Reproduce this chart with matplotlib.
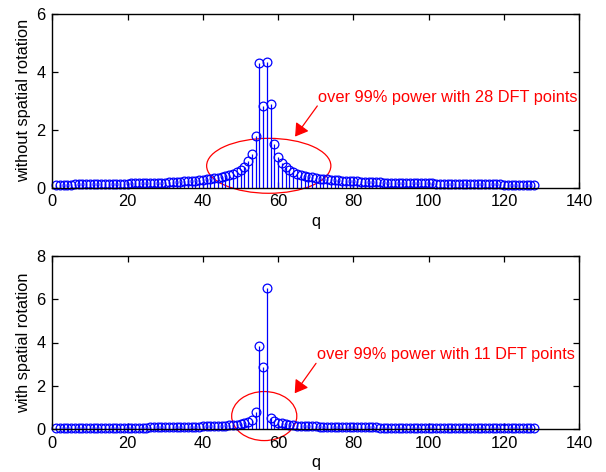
import matplotlib
matplotlib.use("Agg")
import matplotlib.pyplot as plt
from matplotlib.patches import Ellipse
import numpy as np

q = list(range(1, 129))

top_vals = [
    0.10, 0.10, 0.10, 0.10, 0.10, 0.11, 0.11, 0.11, 0.11, 0.11,
    0.11, 0.12, 0.12, 0.12, 0.12, 0.12, 0.13, 0.13, 0.13, 0.13,
    0.14, 0.14, 0.14, 0.15, 0.15, 0.15, 0.16, 0.16, 0.17, 0.17,
    0.18, 0.18, 0.19, 0.20, 0.21, 0.22, 0.23, 0.24, 0.25, 0.27,
    0.28, 0.30, 0.32, 0.34, 0.37, 0.40, 0.43, 0.47, 0.52, 0.59,
    0.72, 0.90, 1.17, 1.78, 4.30, 2.83, 4.34, 2.88, 1.50, 1.07,
    0.84, 0.70, 0.60, 0.53, 0.48, 0.44, 0.40, 0.37, 0.35, 0.33,
    0.31, 0.29, 0.28, 0.27, 0.26, 0.25, 0.24, 0.23, 0.22, 0.21,
    0.21, 0.20, 0.20, 0.19, 0.19, 0.18, 0.18, 0.17, 0.17, 0.17,
    0.16, 0.16, 0.16, 0.15, 0.15, 0.15, 0.15, 0.14, 0.14, 0.14,
    0.14, 0.13, 0.13, 0.13, 0.13, 0.13, 0.12, 0.12, 0.12, 0.12,
    0.12, 0.12, 0.11, 0.11, 0.11, 0.11, 0.11, 0.11, 0.11, 0.10,
    0.10, 0.10, 0.10, 0.10, 0.10, 0.10, 0.10, 0.10,
]

bottom_vals = [
    0.06, 0.06, 0.06, 0.06, 0.06, 0.06, 0.06, 0.06, 0.07, 0.07,
    0.07, 0.07, 0.07, 0.07, 0.07, 0.07, 0.07, 0.07, 0.08, 0.08,
    0.08, 0.08, 0.08, 0.08, 0.08, 0.09, 0.09, 0.09, 0.09, 0.09,
    0.10, 0.10, 0.10, 0.10, 0.11, 0.11, 0.11, 0.12, 0.12, 0.13,
    0.13, 0.14, 0.14, 0.15, 0.16, 0.17, 0.18, 0.19, 0.21, 0.24,
    0.28, 0.35, 0.43, 0.81, 3.84, 2.86, 6.50, 0.50, 0.40, 0.31,
    0.27, 0.23, 0.20, 0.18, 0.17, 0.16, 0.15, 0.14, 0.13, 0.13,
    0.12, 0.12, 0.11, 0.11, 0.11, 0.10, 0.10, 0.10, 0.10, 0.09,
    0.09, 0.09, 0.09, 0.09, 0.09, 0.09, 0.08, 0.08, 0.08, 0.08,
    0.08, 0.08, 0.08, 0.08, 0.08, 0.08, 0.08, 0.07, 0.07, 0.07,
    0.07, 0.07, 0.07, 0.07, 0.07, 0.07, 0.07, 0.07, 0.07, 0.07,
    0.07, 0.07, 0.07, 0.07, 0.06, 0.06, 0.06, 0.06, 0.06, 0.06,
    0.06, 0.06, 0.06, 0.06, 0.06, 0.06, 0.06, 0.06,
]

xticks = [0, 20, 40, 60, 80, 100, 120, 140]
top_yticks = [0, 2, 4, 6]
bottom_yticks = [0, 2, 4, 6, 8]
top_label = "without spatial rotation"
bottom_label = "with spatial rotation"
top_note = "over 99% power with 28 DFT points"
bottom_note = "over 99% power with 11 DFT points"

plt.rcParams['font.family'] = ['Liberation Sans', 'DejaVu Sans']
FS = 11.8

fig = plt.figure(figsize=(6.06, 4.72), dpi=100)
W, H = 606, 472

def make_axes(top_px, bottom_px):
    left_px, right_px = 52.3, 579.3
    return fig.add_axes([left_px / W, 1 - bottom_px / H,
                         (right_px - left_px) / W, (bottom_px - top_px) / H])

ax1 = make_axes(14, 187.5)
ax2 = make_axes(255.7, 429.3)

def draw(ax, vals, ymax, yticks, ylabel):
    ml, sl, bl = ax.stem(q, vals, linefmt='-', markerfmt='o', basefmt=' ')
    plt.setp(sl, color='#0000ff', linewidth=0.9)
    plt.setp(ml, markerfacecolor='none', markeredgecolor='#0000ff',
             markersize=6.3, markeredgewidth=0.9, clip_on=False)
    ax.set_xlim(0, 140)
    ax.set_ylim(0, ymax)
    ax.set_xticks(xticks)
    ax.set_yticks(yticks)
    ax.tick_params(direction='in', top=True, right=True, length=4,
                   width=0.9, labelsize=FS, pad=5)
    for s in ax.spines.values():
        s.set_linewidth(1.0)
    ax.set_xlabel('q', fontsize=FS, labelpad=3)
    ax.set_ylabel(ylabel, fontsize=FS, labelpad=4)

draw(ax1, top_vals, 6, top_yticks, top_label)
draw(ax2, bottom_vals, 8, bottom_yticks, bottom_label)

arrow_style = '-|>,head_length=0.45,head_width=0.28'

e1 = Ellipse((57.5, 0.75), 33.0, 1.9, fill=False, edgecolor='red',
             linewidth=0.9, clip_on=False)
ax1.add_patch(e1)
ax1.text(70.7, 3.12, top_note, color='red', fontsize=FS, ha='left', va='center')
ax1.annotate('', xy=(64.5, 1.76), xytext=(70.4, 2.82),
             arrowprops=dict(arrowstyle=arrow_style, color='red', lw=0.9,
                             mutation_scale=17, shrinkA=0, shrinkB=0))

e2 = Ellipse((56.3, 0.61), 17.3, 2.26, fill=False, edgecolor='red',
             linewidth=0.9, clip_on=False)
ax2.add_patch(e2)
ax2.text(70.2, 3.47, bottom_note, color='red', fontsize=FS, ha='left', va='center')
ax2.annotate('', xy=(64.4, 1.66), xytext=(70.06, 3.04),
             arrowprops=dict(arrowstyle=arrow_style, color='red', lw=0.9,
                             mutation_scale=17, shrinkA=0, shrinkB=0))

fig.savefig('out.png', dpi=100)
